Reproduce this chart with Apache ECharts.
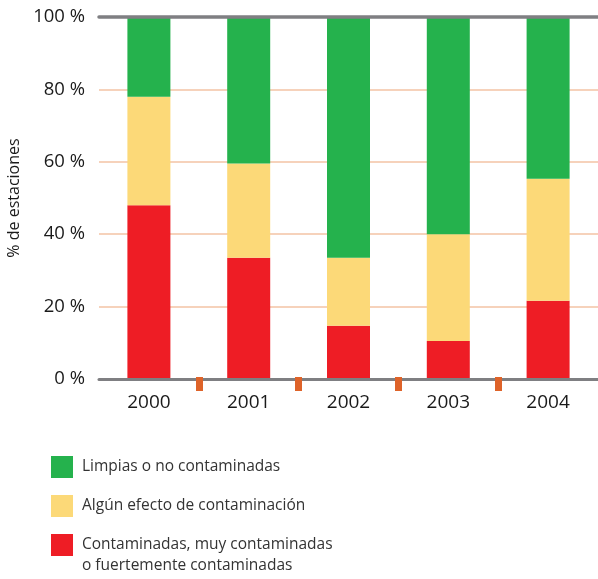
<!DOCTYPE html>
<html>
<head>
<meta charset="utf-8">
<script src="https://cdn.jsdelivr.net/npm/echarts@6/dist/echarts.min.js"></script>
<style>
  html, body { margin: 0; padding: 0; background: #fff; }
  #chart { width: 598px; height: 579px; }
</style>
</head>
<body>
<div id="chart"></div>
<script>
// Share of monitoring stations by contamination class, per year (%)
const years = ['2000', '2001', '2002', '2003', '2004'];
const contaminadas = [48, 33.5, 14.7, 10.5, 21.6];
const algunEfecto = [30, 26, 18.8, 29.5, 33.7];
const limpias = [22, 40.5, 66.5, 60, 44.7];
const yTicks = [0, 20, 40, 60, 80, 100];

const NAME_CLEAN = 'Limpias o no contaminadas';
const NAME_SOME = 'Algún efecto de contaminación';
const NAME_BAD = 'Contaminadas, muy contaminadas o fuertemente contaminadas';

const FONT = '"Open Sans", "Noto Sans", sans-serif';
const GRAY = '#7f7f82';
const LEGEND_TEXT = { fontFamily: FONT, fontSize: 15.5, color: '#333', lineHeight: 21 };

const chart = echarts.init(document.getElementById('chart'), null, { renderer: 'canvas' });

// separator marks sit on the boundaries between year columns
const separatorSlots = ['', ...years];

chart.setOption({
  animation: false,
  grid: { left: 99, right: 0, top: 17, bottom: 200, containLabel: false, outerBoundsMode: 'none' },
  legend: {
    orient: 'vertical',
    left: 51,
    top: 456,
    height: 200,
    padding: 0,
    icon: 'rect',
    itemWidth: 22,
    itemHeight: 22,
    itemGap: 17,
    textStyle: Object.assign({ padding: [0, 0, 0, 4], rich: { t: LEGEND_TEXT } }, LEGEND_TEXT),
    formatter: function (name) {
      // the long label wraps, with its first line level with the swatch
      return name === NAME_BAD
        ? '{t|Contaminadas, muy contaminadas}\n{t|o fuertemente contaminadas}'
        : name;
    },
    data: [
      { name: NAME_CLEAN },
      { name: NAME_SOME },
      {
        name: NAME_BAD,
        textStyle: Object.assign({ padding: [0, 0, -21, 4], rich: { t: LEGEND_TEXT } }, LEGEND_TEXT)
      }
    ]
  },
  xAxis: [
    {
      type: 'category',
      data: years,
      position: 'bottom',
      z: 5,
      axisLine: { lineStyle: { color: GRAY, width: 3 } },
      axisTick: { show: false },
      axisLabel: { fontFamily: FONT, fontSize: 19, color: '#1a1a1a', margin: 14 }
    },
    {
      type: 'category',
      data: separatorSlots,
      boundaryGap: false,
      position: 'bottom',
      offset: -2,
      z: 6,
      axisLine: { show: false },
      axisLabel: { show: false },
      axisTick: {
        show: true,
        length: 14,
        interval: function (index) { return index > 0 && index < separatorSlots.length - 1; },
        lineStyle: { color: '#de6329', width: 7 }
      }
    },
    {
      type: 'category',
      data: years,
      position: 'top',
      z: 5,
      axisLine: { lineStyle: { color: GRAY, width: 3.5 } },
      axisTick: { show: false },
      axisLabel: { show: false }
    }
  ],
  yAxis: {
    type: 'value',
    min: yTicks[0],
    max: yTicks[yTicks.length - 1],
    interval: yTicks[1] - yTicks[0],
    name: '% de estaciones',
    nameLocation: 'middle',
    nameRotate: 90,
    nameGap: 77,
    nameTextStyle: { fontFamily: FONT, fontSize: 16, color: '#1a1a1a' },
    axisLine: { show: false },
    axisTick: { show: false },
    axisLabel: { formatter: '{value} %', fontFamily: FONT, fontSize: 18.5, color: '#1a1a1a', margin: 14 },
    splitLine: { lineStyle: { color: '#f6d2bb', width: 2 } }
  },
  series: [
    { name: NAME_BAD, type: 'bar', stack: 'total', barWidth: 43, data: contaminadas, itemStyle: { color: '#ee1d25' } },
    { name: NAME_SOME, type: 'bar', stack: 'total', barWidth: 43, data: algunEfecto, itemStyle: { color: '#fcd978' } },
    { name: NAME_CLEAN, type: 'bar', stack: 'total', barWidth: 43, data: limpias, itemStyle: { color: '#25b24d' } }
  ]
});
</script>
</body>
</html>
